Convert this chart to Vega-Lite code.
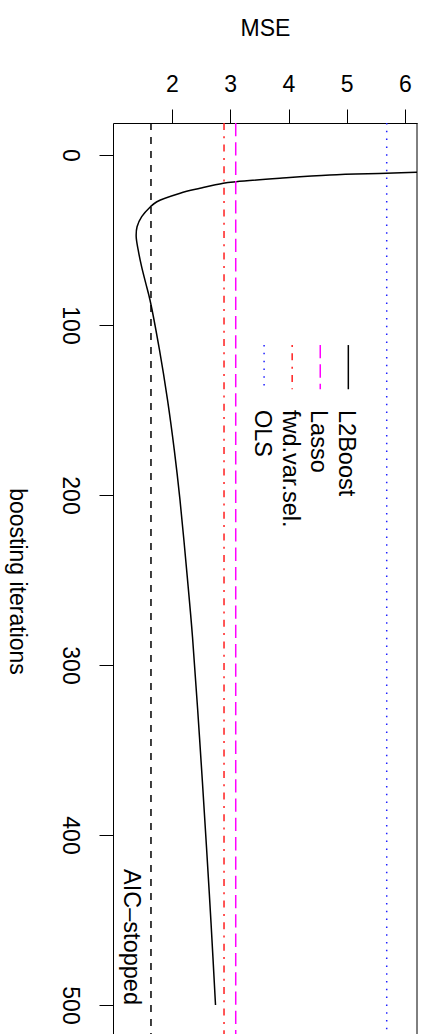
{
  "$schema": "https://vega.github.io/schema/vega-lite/v6.json",
  "width": 304,
  "height": 911,
  "autosize": {"type": "none"},
  "padding": {"left": 113, "top": 123, "right": 10, "bottom": 0},
  "background": "white",
  "config": {
    "view": {"stroke": null},
    "font": "Liberation Sans",
    "axis": {
      "grid": false,
      "domainColor": "black",
      "domainWidth": 1,
      "tickColor": "black",
      "tickWidth": 1,
      "labelColor": "black",
      "titleColor": "black",
      "titleFontWeight": "normal",
      "labelFlush": false,
      "labelOverlap": false
    }
  },
  "datasets": {
    "boost": [
      {"iter": 9, "mse": 7.3},
      {"iter": 10.2, "mse": 6.2},
      {"iter": 10.8, "mse": 5.68},
      {"iter": 11.8, "mse": 4.71},
      {"iter": 13.7, "mse": 3.85},
      {"iter": 15.7, "mse": 3.1},
      {"iter": 16.6, "mse": 2.88},
      {"iter": 19.6, "mse": 2.48},
      {"iter": 22.5, "mse": 2.14},
      {"iter": 27.5, "mse": 1.74},
      {"iter": 30.4, "mse": 1.63},
      {"iter": 36.3, "mse": 1.48},
      {"iter": 42.2, "mse": 1.4},
      {"iter": 48, "mse": 1.385},
      {"iter": 56, "mse": 1.42},
      {"iter": 66, "mse": 1.48},
      {"iter": 75.5, "mse": 1.55},
      {"iter": 85.3, "mse": 1.622},
      {"iter": 114.7, "mse": 1.785},
      {"iter": 144.1, "mse": 1.923},
      {"iter": 173.5, "mse": 2.039},
      {"iter": 202.9, "mse": 2.137},
      {"iter": 248.2, "mse": 2.262},
      {"iter": 283.5, "mse": 2.352},
      {"iter": 342.4, "mse": 2.472},
      {"iter": 407.1, "mse": 2.592},
      {"iter": 451.8, "mse": 2.67},
      {"iter": 500, "mse": 2.747}
    ],
    "refs": [
      {"method": "AIC-stopped", "mse": 1.639},
      {"method": "Lasso", "mse": 3.094},
      {"method": "fwd.var.sel.", "mse": 2.893},
      {"method": "OLS", "mse": 5.686}
    ]
  },
  "layer": [
    {
      "data": {"name": "boost"},
      "mark": {"type": "line", "color": "black", "strokeWidth": 1.5, "clip": true, "interpolate": "catmull-rom"},
      "encoding": {
        "x": {
          "field": "mse",
          "type": "quantitative",
          "scale": {"domain": [0.987, 6.206], "nice": false, "zero": false},
          "axis": {
            "orient": "top",
            "values": [2, 3, 4, 5, 6],
            "format": "d",
            "tickSize": 14,
            "labelFontSize": 23,
            "labelPadding": 18,
            "labelAlign": "center",
            "labelBaseline": "alphabetic",
            "title": "MSE",
            "titleFontSize": 23,
            "titleBaseline": "alphabetic",
            "titleAlign": "center",
            "titleX": 152,
            "titleY": -88
          }
        },
        "y": {
          "field": "iter",
          "type": "quantitative",
          "scale": {"domain": [-18.82, 517.06], "nice": false, "zero": false, "reverse": true},
          "axis": {
            "orient": "left",
            "values": [0, 100, 200, 300, 400, 500],
            "format": "d",
            "tickSize": 14,
            "labelAngle": 90,
            "labelAlign": "center",
            "labelBaseline": "alphabetic",
            "labelPadding": 36.5,
            "labelFontSize": 23,
            "title": "boosting iterations",
            "titleAngle": 90,
            "titleFontSize": 23,
            "titleAlign": "center",
            "titleBaseline": "alphabetic",
            "titleX": -104,
            "titleY": 458
          }
        },
        "order": {"field": "iter", "type": "quantitative"}
      }
    },
    {
      "data": {"name": "refs"},
      "mark": {"type": "rule", "strokeWidth": 1.5},
      "encoding": {
        "x": {"field": "mse", "type": "quantitative"},
        "color": {
          "field": "method",
          "type": "nominal",
          "scale": {"domain": ["AIC-stopped", "Lasso", "fwd.var.sel.", "OLS"], "range": ["black", "#ff00ff", "#ff2020", "#2020ff"]},
          "legend": null
        },
        "strokeDash": {
          "field": "method",
          "type": "nominal",
          "scale": {"domain": ["AIC-stopped", "Lasso", "fwd.var.sel.", "OLS"], "range": [[7, 7], [13.3, 6], [7, 6.3, 2, 6.3], [1.5, 6.3]]},
          "legend": null
        }
      }
    },
    {
      "data": {"values": [{}]},
      "mark": {"type": "rule", "color": "black", "strokeWidth": 1},
      "encoding": {"x": {"datum": 6.206}}
    },
    {
      "data": {"values": [{"label": "AIC\u2013stopped"}]},
      "mark": {"type": "text", "angle": 90, "align": "right", "baseline": "alphabetic", "fontSize": 23.5, "color": "black"},
      "encoding": {"x": {"datum": 1.18}, "y": {"datum": 500}, "text": {"field": "label"}}
    },
    {
      "data": {"values": [{}]},
      "mark": {"type": "rule", "color": "black", "strokeWidth": 1.5},
      "encoding": {"x": {"datum": 5.027}, "y": {"datum": 111.8}, "y2": {"datum": 137.8}}
    },
    {
      "data": {"values": [{}]},
      "mark": {"type": "rule", "color": "#ff00ff", "strokeWidth": 1.5, "strokeDash": [13.3, 6]},
      "encoding": {"x": {"datum": 4.545}, "y": {"datum": 111.8}, "y2": {"datum": 137.8}}
    },
    {
      "data": {"values": [{}]},
      "mark": {"type": "rule", "color": "#ff2020", "strokeWidth": 1.5, "strokeDash": [2, 6.3, 7, 6.3]},
      "encoding": {"x": {"datum": 4.063}, "y": {"datum": 111.8}, "y2": {"datum": 137.8}}
    },
    {
      "data": {"values": [{}]},
      "mark": {"type": "rule", "color": "#2020ff", "strokeWidth": 1.5, "strokeDash": [1.5, 6.3]},
      "encoding": {"x": {"datum": 3.581}, "y": {"datum": 111.8}, "y2": {"datum": 137.8}}
    },
    {
      "data": {"values": [{"label": "L2Boost"}]},
      "mark": {"type": "text", "angle": 90, "align": "left", "baseline": "alphabetic", "fontSize": 23.5, "color": "black"},
      "encoding": {"x": {"datum": 4.869}, "y": {"datum": 150}, "text": {"field": "label"}}
    },
    {
      "data": {"values": [{"label": "Lasso"}]},
      "mark": {"type": "text", "angle": 90, "align": "left", "baseline": "alphabetic", "fontSize": 23.5, "color": "black"},
      "encoding": {"x": {"datum": 4.387}, "y": {"datum": 150}, "text": {"field": "label"}}
    },
    {
      "data": {"values": [{"label": "fwd.var.sel."}]},
      "mark": {"type": "text", "angle": 90, "align": "left", "baseline": "alphabetic", "fontSize": 23.5, "color": "black"},
      "encoding": {"x": {"datum": 3.905}, "y": {"datum": 150}, "text": {"field": "label"}}
    },
    {
      "data": {"values": [{"label": "OLS"}]},
      "mark": {"type": "text", "angle": 90, "align": "left", "baseline": "alphabetic", "fontSize": 23.5, "color": "black"},
      "encoding": {"x": {"datum": 3.422}, "y": {"datum": 150}, "text": {"field": "label"}}
    }
  ]
}
